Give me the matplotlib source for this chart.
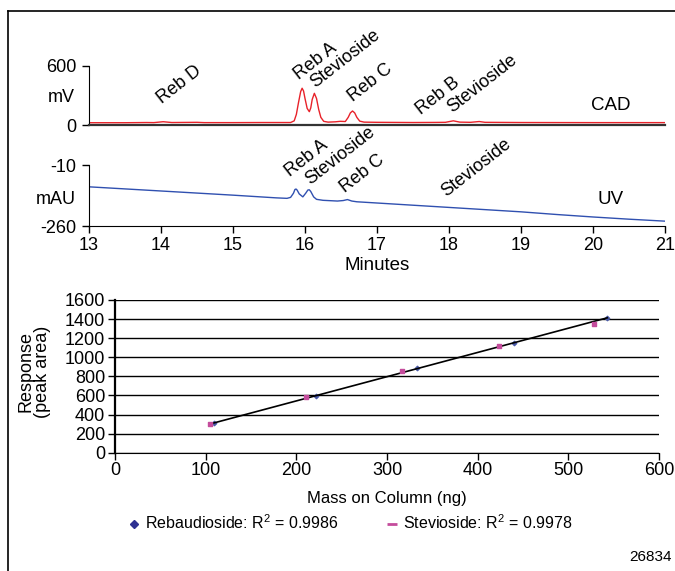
import numpy as np
import matplotlib.pyplot as plt
from matplotlib.lines import Line2D

plt.rcParams['font.family'] = ['Liberation Sans', 'DejaVu Sans']
plt.rcParams['mathtext.default'] = 'regular'
plt.rcParams['axes.unicode_minus'] = False
plt.rcParams['font.size'] = 12

# CAD trace (minutes, mV)
cad_t = [13.0, 13.5, 13.8, 13.9, 14.03, 14.15, 14.5, 14.6, 15.0, 15.4, 15.7,
         15.80, 15.85, 15.88, 15.91, 15.94, 15.96, 15.98, 16.00, 16.03, 16.06,
         16.08, 16.10, 16.13, 16.16, 16.19, 16.22, 16.26, 16.32, 16.42, 16.49,
         16.56, 16.60, 16.63, 16.66, 16.69, 16.72, 16.76, 16.82, 17.0, 17.5,
         17.8, 17.95, 18.06, 18.15, 18.3, 18.42, 18.5, 19.0, 20.0, 21.0]
cad_mv = [26, 26, 28, 27, 36, 28, 30, 27, 27, 28, 28,
          28, 45, 110, 230, 340, 373, 345, 270, 170, 137,
          175, 260, 322, 270, 160, 80, 40, 32, 35, 40,
          38, 80, 125, 144, 125, 80, 42, 32, 30, 28,
          29, 30, 45, 32, 30, 38, 30, 28, 27, 27]

# UV trace (minutes, mAU)
uv_t = [13.0, 14.0, 15.0, 15.6, 15.75, 15.80, 15.84, 15.86, 15.875, 15.89,
        15.92, 15.97, 16.01, 16.04, 16.06, 16.08, 16.12, 16.16, 16.25, 16.45,
        16.53, 16.59, 16.65, 16.72, 17.0, 17.5, 18.0, 18.5, 19.0, 19.5,
        20.0, 20.5, 21.0]
uv_mau = [-99, -116, -133, -144, -146, -142, -125, -110, -108, -112,
          -128, -140, -125, -112, -111, -118, -140, -150, -154, -157,
          -155, -151, -157, -160, -165, -174, -183, -192, -201, -212,
          -222, -231, -239]

cad_labels = ['Reb D', 'Reb A', 'Stevioside', 'Reb C', 'Reb B', 'Stevioside']
cad_label_pos = [(14.01, 210), (15.92, 456), (16.14, 375), (16.66, 237),
                 (17.61, 103), (18.05, 123)]
uv_labels = ['Reb A', 'Stevioside', 'Reb C', 'Stevioside']
uv_label_pos = [(15.79, -58), (16.07, -92), (16.56, -126), (17.96, -140)]

# calibration data: mass on column (ng) vs peak area
reb_mass = [109, 222, 333, 440, 543]
reb_area = [313, 591, 890, 1150, 1412]
stev_mass = [105, 211, 316, 423, 528]
stev_area = [299, 584, 859, 1116, 1346]
reb_r2 = 0.9986
stev_r2 = 0.9978

fig = plt.figure(figsize=(6.75, 5.71), dpi=100)

# outer frame (left and top edges)
fig.add_artist(Line2D([8 / 675, 8 / 675], [0, 1 - 11 / 571], color='black', lw=1.2))
fig.add_artist(Line2D([8 / 675, 1], [1 - 11 / 571, 1 - 11 / 571], color='black', lw=1.2))

# --- CAD panel ---
ax1 = fig.add_axes([89 / 675, 1 - 125.3 / 571, 576 / 675, 59.6 / 571])
ax1.plot(cad_t, cad_mv, color='#e8222a', lw=1.0)
ax1.set_xlim(13, 21)
ax1.set_ylim(0, 600)
ax1.set_yticks([0, 600])
ax1.set_xticks([])
for s in ['top', 'right']:
    ax1.spines[s].set_visible(False)
ax1.spines['bottom'].set_color('#333333')
ax1.spines['bottom'].set_linewidth(1.6)
ax1.tick_params(axis='y', length=5, width=1, pad=4, labelsize=13)
ax1.patch.set_alpha(0)
fig.text(75 / 675, 1 - 98 / 571, 'mV', ha='right', va='center', fontsize=13)
ax1.text(20.24, 204, 'CAD', ha='center', va='center', fontsize=13.5)
for lab, (x, y) in zip(cad_labels, cad_label_pos):
    ax1.text(x, y, lab, rotation=38, rotation_mode='anchor', ha='left',
             va='baseline', clip_on=False, fontsize=13)

# --- UV panel ---
ax2 = fig.add_axes([89 / 675, 1 - 226.3 / 571, 576 / 675, 61.3 / 571])
ax2.plot(uv_t, uv_mau, color='#3050b0', lw=1.0)
ax2.set_xlim(13, 21)
ax2.set_ylim(-260, -10)
ax2.set_yticks([-260, -10])
ax2.set_xticks(range(13, 22))
for s in ['top', 'right']:
    ax2.spines[s].set_visible(False)
ax2.tick_params(axis='y', length=5, width=1, pad=4, labelsize=13)
ax2.tick_params(axis='x', length=5, width=1, pad=3, labelsize=13)
ax2.patch.set_alpha(0)
ax2.set_xlabel('Minutes', labelpad=2, fontsize=13.5)
fig.text(76 / 675, 1 - 199 / 571, 'mAU', ha='right', va='center', fontsize=13)
ax2.text(20.24, -149, 'UV', ha='center', va='center', fontsize=13.5)
for lab, (x, y) in zip(uv_labels, uv_label_pos):
    ax2.text(x, y, lab, rotation=38, rotation_mode='anchor', ha='left',
             va='baseline', clip_on=False, fontsize=13)

# --- calibration panel ---
ax3 = fig.add_axes([115 / 675, 1 - 452.7 / 571, 544 / 675, 152.7 / 571])
fit = np.polyfit(reb_mass, reb_area, 1)
xs = np.array([min(reb_mass), max(reb_mass)])
ax3.scatter(reb_mass, reb_area, marker='D', s=5, color='#4a5aa8', zorder=2)
ax3.plot(xs, np.polyval(fit, xs), color='black', lw=1.2, zorder=3)
ax3.scatter(stev_mass, stev_area, marker='s', s=12, color='#c44c9c', zorder=4)
ax3.set_xlim(0, 600)
ax3.set_ylim(0, 1600)
ax3.set_xticks(range(0, 601, 100))
ax3.set_yticks(range(0, 1601, 200))
ax3.yaxis.grid(True, color='black', lw=1.0)
ax3.set_axisbelow(True)
for s in ['top', 'right']:
    ax3.spines[s].set_visible(False)
ax3.spines['left'].set_linewidth(1.6)
ax3.tick_params(length=5, width=1, pad=2, labelsize=13)
ax3.set_xlabel('Mass on Column (ng)', labelpad=8)
fig.text(34 / 675, 1 - 372 / 571, 'Response\n(peak area)', rotation=90,
         ha='center', va='center', linespacing=0.95, fontsize=13)

handles = [Line2D([], [], ls='none', marker='D', ms=4, color='#2e3192'),
           Line2D([], [], ls='none', marker='_', ms=7, mew=2, color='#c44c9c')]
fig.legend(handles,
           ['Rebaudioside: R$^2$ = %.4f' % reb_r2, 'Stevioside: R$^2$ = %.4f' % stev_r2],
           loc='center', bbox_to_anchor=(351 / 675, 1 - 523 / 571), ncol=2,
           frameon=False, handlelength=0.6, handletextpad=0.4, columnspacing=3.0,
           fontsize=11.5)

fig.text(650 / 675, 1 - 557 / 571, '26834', ha='center', va='center', fontsize=11)

fig.savefig('out.png', dpi=100)
